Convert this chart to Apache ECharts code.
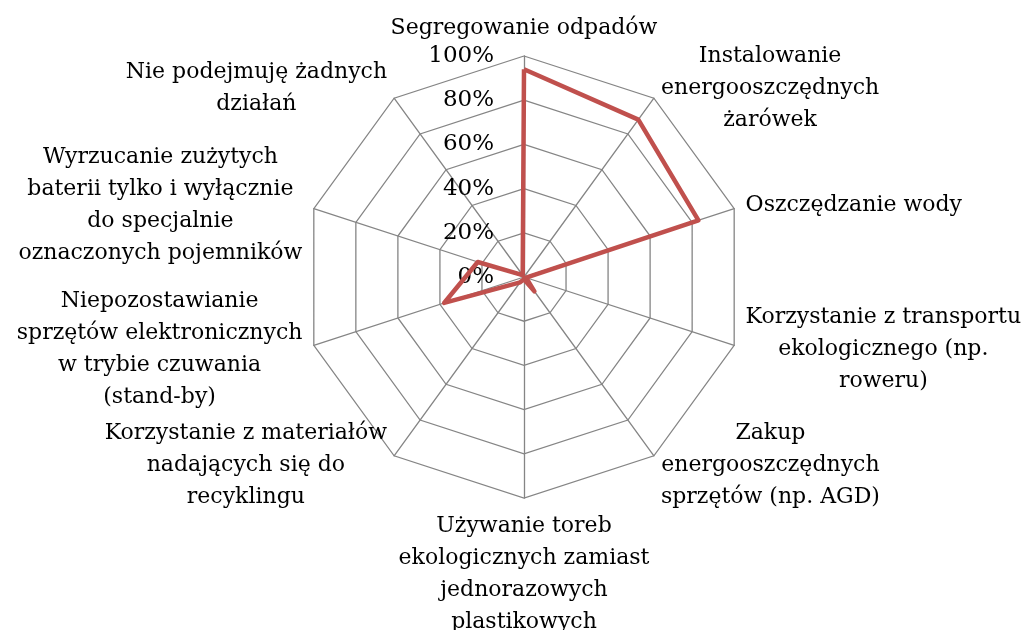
<!DOCTYPE html>
<html>
<head>
<meta charset="utf-8">
<script src="https://cdn.jsdelivr.net/npm/echarts@6.0.0/dist/echarts.min.js"></script>
<style>
  html, body { margin: 0; padding: 0; background: #fff; }
  #chart { width: 1029px; height: 630px; }
</style>
</head>
<body>
<div id="chart"></div>
<script>
// categories in the clockwise order of the picture, starting at the top
var categories = [
  "Segregowanie odpadów",
  "Instalowanie\nenergooszczędnych\nżarówek",
  "Oszczędzanie wody",
  "Korzystanie z transportu\nekologicznego (np.\nroweru)",
  "Zakup\nenergooszczędnych\nsprzętów (np. AGD)",
  "Używanie toreb\nekologicznych zamiast\njednorazowych\nplastikowych",
  "Korzystanie z materiałów\nnadających się do\nrecyklingu",
  "Niepozostawianie\nsprzętów elektronicznych\nw trybie czuwania\n(stand-by)",
  "Wyrzucanie zużytych\nbaterii tylko i wyłącznie\ndo specjalnie\noznaczonych pojemników",
  "Nie podejmuję żadnych\ndziałań"
];
var values = [94, 88, 83, 1, 8, 1, 3, 38, 22, 1];
var scaleMax = 100;
var scaleSteps = 5;

var font = "DejaVu Serif";

// echarts lays indicators counter-clockwise, the picture goes clockwise
var order = [0];
for (var i = categories.length - 1; i > 0; i--) order.push(i);

var indicator = order.map(function (k, n) {
  var ind = { name: categories[k], max: scaleMax, min: 0 };
  if (n === 0) {
    ind.axisLabel = {
      show: true,
      formatter: function (v) { return v + '%'; },
      color: '#000',
      fontFamily: font,
      fontSize: 23,
      margin: 30
    };
  }
  return ind;
});

var chart = echarts.init(document.getElementById('chart'));
chart.setOption({
  animation: false,
  radar: {
    center: [524, 277],
    radius: 221,
    shape: 'polygon',
    splitNumber: scaleSteps,
    nameGap: 12,
    indicator: indicator,
    axisName: {
      color: '#000',
      fontFamily: font,
      fontSize: 22,
      formatter: function (name) {
        return name.split('\n').map(function (s) { return '{c|' + s + '}'; }).join('\n');
      },
      rich: {
        c: { align: 'center', fontFamily: font, fontSize: 22, lineHeight: 32, color: '#000' }
      }
    },
    axisLine: { lineStyle: { color: '#858585', width: 1.3 } },
    splitLine: { lineStyle: { color: '#858585', width: 1.3 } },
    splitArea: { show: false },
    axisTick: { show: false },
    axisLabel: { show: false }
  },
  series: [{
    type: 'radar',
    symbol: 'none',
    lineStyle: { color: '#C0504D', width: 4.5 },
    data: [{ value: order.map(function (k) { return values[k]; }) }]
  }]
});
</script>
</body>
</html>
